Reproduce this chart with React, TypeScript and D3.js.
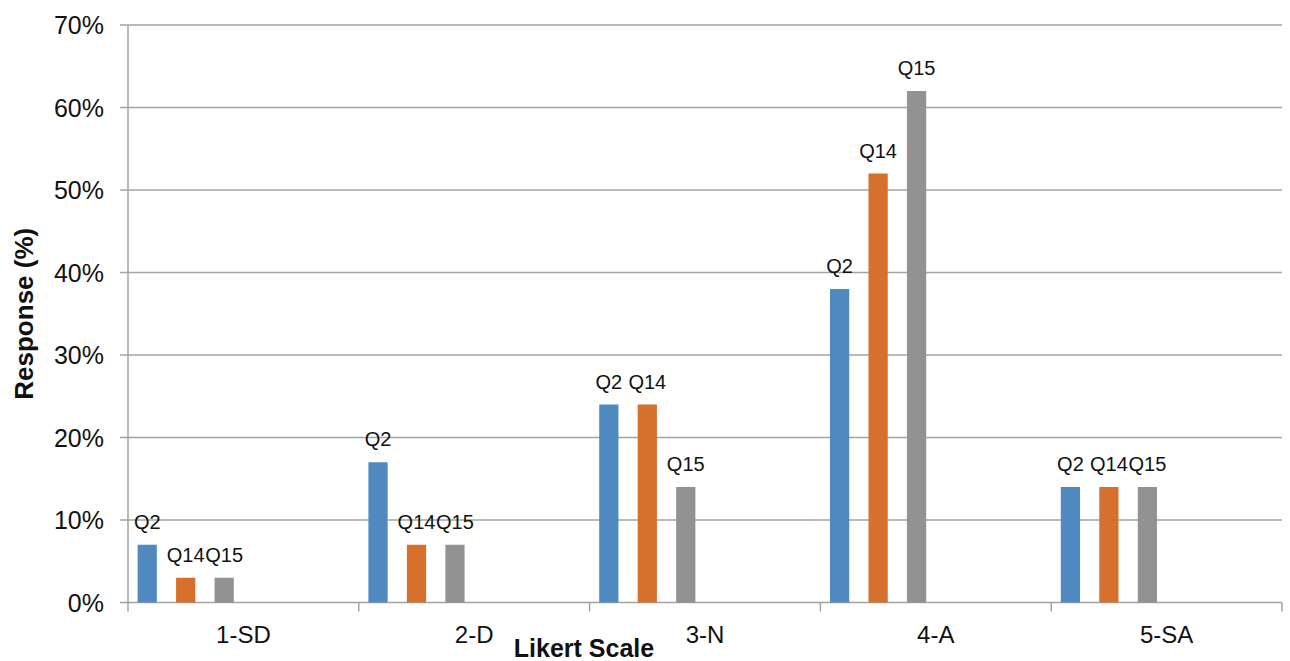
import React, { useEffect, useRef } from "react";
import * as d3 from "d3";

// Likert responses per question (percent)
const categories = ["1-SD", "2-D", "3-N", "4-A", "5-SA"];
const seriesNames = ["Q2", "Q14", "Q15"];
const q2Values = [7, 17, 24, 38, 14];
const q14Values = [3, 7, 24, 52, 14];
const q15Values = [3, 7, 14, 62, 14];
const yTicks = [0, 10, 20, 30, 40, 50, 60, 70];
const seriesColors = ["#4f89c0", "#d6702d", "#929292"];

const W = 1290;
const H = 661;
const margin = { left: 128, right: 8, top: 25, bottom: 58.5 };
const FONT = "Arial, 'Liberation Sans', Helvetica, sans-serif";

export default function App() {
  const ref = useRef<SVGSVGElement | null>(null);

  useEffect(() => {
    const svg = d3.select(ref.current);
    svg.selectAll("*").remove();

    const x0 = margin.left;
    const x1 = W - margin.right;
    const y0 = H - margin.bottom;
    const y1 = margin.top;

    const x = d3.scaleBand<string>().domain(categories).range([x0, x1]).padding(0);
    // six slots per category, the three series take the first three
    const slots = d3.range(6).map(String);
    const xs = d3.scaleBand<string>().domain(slots).range([0, x.bandwidth()]).paddingInner(0.5).paddingOuter(0.25);
    const y = d3.scaleLinear().domain([0, 70]).range([y0, y1]);

    const grid = "#a3a3a3";

    // gridlines + left ticks
    svg
      .append("g")
      .selectAll("line")
      .data(yTicks)
      .join("line")
      .attr("x1", x0 - 8)
      .attr("x2", x1)
      .attr("y1", (d) => y(d))
      .attr("y2", (d) => y(d))
      .attr("stroke", grid)
      .attr("stroke-width", 1.5);

    // y axis line
    svg.append("line").attr("x1", x0).attr("x2", x0).attr("y1", y1).attr("y2", y0).attr("stroke", grid).attr("stroke-width", 1.5);

    // category ticks
    const bounds = categories.map((c) => x(c) as number).concat([x1]);
    svg
      .append("g")
      .selectAll("line")
      .data(bounds)
      .join("line")
      .attr("x1", (d) => d)
      .attr("x2", (d) => d)
      .attr("y1", y0)
      .attr("y2", y0 + 9)
      .attr("stroke", grid)
      .attr("stroke-width", 1.5);

    // y tick labels
    svg
      .append("g")
      .selectAll("text")
      .data(yTicks)
      .join("text")
      .attr("x", 104)
      .attr("y", (d) => y(d))
      .attr("dy", "0.36em")
      .attr("text-anchor", "end")
      .attr("font-family", FONT)
      .attr("font-size", 25)
      .attr("fill", "#111")
      .text((d) => `${d}%`);

    // category labels
    svg
      .append("g")
      .selectAll("text")
      .data(categories)
      .join("text")
      .attr("x", (d) => (x(d) as number) + x.bandwidth() / 2)
      .attr("y", 643)
      .attr("text-anchor", "middle")
      .attr("font-family", FONT)
      .attr("font-size", 24)
      .attr("fill", "#111")
      .text((d) => d);

    const seriesValues = [q2Values, q14Values, q15Values];
    seriesNames.forEach((name, si) => {
      const g = svg.append("g");
      const vals = seriesValues[si];
      g.selectAll("rect")
        .data(vals)
        .join("rect")
        .attr("x", (_, i) => (x(categories[i]) as number) + (xs(String(si)) as number))
        .attr("width", xs.bandwidth())
        .attr("y", (d) => y(d))
        .attr("height", (d) => y0 - y(d))
        .attr("fill", seriesColors[si]);
      g.selectAll("text")
        .data(vals)
        .join("text")
        .attr("x", (_, i) => (x(categories[i]) as number) + (xs(String(si)) as number) + xs.bandwidth() / 2)
        .attr("y", (d) => y(d) - 16)
        .attr("text-anchor", "middle")
        .attr("font-family", FONT)
        .attr("font-size", 20)
        .attr("fill", "#111")
        .text(name);
    });

    // axis titles
    svg
      .append("text")
      .attr("x", 584)
      .attr("y", 657)
      .attr("text-anchor", "middle")
      .attr("font-family", FONT)
      .attr("font-weight", "bold")
      .attr("font-size", 25)
      .attr("fill", "#111")
      .text("Likert Scale");

    svg
      .append("text")
      .attr("transform", `translate(33, ${(y0 + y1) / 2}) rotate(-90)`)
      .attr("text-anchor", "middle")
      .attr("font-family", FONT)
      .attr("font-weight", "bold")
      .attr("font-size", 26)
      .attr("fill", "#111")
      .text("Response (%)");
  }, []);

  return (
    <div style={{ position: "fixed", left: 0, top: 0, width: W, height: H, background: "#fff" }}>
      <svg ref={ref} width={W} height={H} style={{ display: "block" }} />
    </div>
  );
}
